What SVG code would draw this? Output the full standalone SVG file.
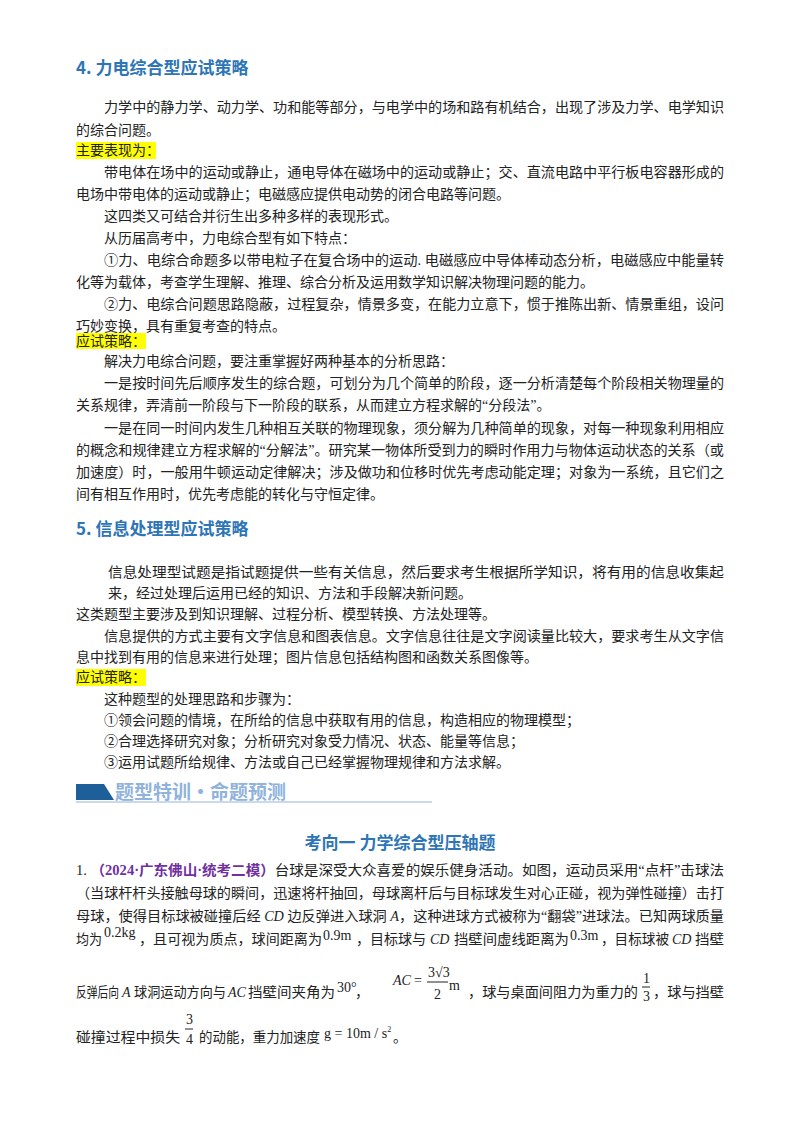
<svg xmlns="http://www.w3.org/2000/svg" width="800" height="1134" viewBox="0 0 800 1134">
<style>
.t{font-family:"Liberation Serif","Noto Sans CJK SC",serif;font-size:14px;fill:#222}
.h{font-family:"Noto Sans CJK SC",sans-serif;font-size:17px;font-weight:bold;fill:#2e75b6}
.m{font-family:"Liberation Serif",serif;font-size:14px;fill:#222}
.i{font-style:italic}
.hl{fill:#ffff00}
</style>
<rect width="800" height="1134" fill="#fff"/>
<text class="h" x="76" y="74">4. 力电综合型应试策略</text>
<g class="t">
<text x="104" y="112" textLength="620" lengthAdjust="spacingAndGlyphs">力学中的静力学、动力学、功和能等部分，与电学中的场和路有机结合，出现了涉及力学、电学知识</text>
<text x="76" y="135">的综合问题。</text>
<rect class="hl" x="76" y="142" width="80" height="17"/>
<text x="76" y="155">主要表现为：</text>
<text x="104" y="177" textLength="620" lengthAdjust="spacingAndGlyphs">带电体在场中的运动或静止，通电导体在磁场中的运动或静止；交、直流电路中平行板电容器形成的</text>
<text x="76" y="199">电场中带电体的运动或静止；电磁感应提供电动势的闭合电路等问题。</text>
<text x="104" y="221">这四类又可结合并衍生出多种多样的表现形式。</text>
<text x="104" y="243">从历届高考中，力电综合型有如下特点：</text>
<text x="104" y="265" textLength="620" lengthAdjust="spacingAndGlyphs">①力、电综合命题多以带电粒子在复合场中的运动. 电磁感应中导体棒动态分析，电磁感应中能量转</text>
<text x="76" y="287">化等为载体，考查学生理解、推理、综合分析及运用数学知识解决物理问题的能力。</text>
<text x="104" y="309" textLength="620" lengthAdjust="spacingAndGlyphs">②力、电综合问题思路隐蔽，过程复杂，情景多变，在能力立意下，惯于推陈出新、情景重组，设问</text>
<text x="76" y="331">巧妙变换，具有重复考查的特点。</text>
<rect class="hl" x="76" y="333" width="70" height="16"/>
<text x="76" y="346">应试策略：</text>
<text x="104" y="366">解决力电综合问题，要注重掌握好两种基本的分析思路：</text>
<text x="104" y="388" textLength="620" lengthAdjust="spacingAndGlyphs">一是按时间先后顺序发生的综合题，可划分为几个简单的阶段，逐一分析清楚每个阶段相关物理量的</text>
<text x="76" y="410">关系规律，弄清前一阶段与下一阶段的联系，从而建立方程求解的“分段法”。</text>
<text x="104" y="433" textLength="620" lengthAdjust="spacingAndGlyphs">一是在同一时间内发生几种相互关联的物理现象，须分解为几种简单的现象，对每一种现象利用相应</text>
<text x="76" y="455" textLength="648" lengthAdjust="spacingAndGlyphs">的概念和规律建立方程求解的“分解法”。研究某一物体所受到力的瞬时作用力与物体运动状态的关系（或</text>
<text x="76" y="477" textLength="648" lengthAdjust="spacingAndGlyphs">加速度）时，一般用牛顿运动定律解决；涉及做功和位移时优先考虑动能定理；对象为一系统，且它们之</text>
<text x="76" y="499">间有相互作用时，优先考虑能的转化与守恒定律。</text>
</g>
<text class="h" x="76" y="535">5. 信息处理型应试策略</text>
<g class="t">
<text x="108" y="577" textLength="616" lengthAdjust="spacingAndGlyphs">信息处理型试题是指试题提供一些有关信息，然后要求考生根据所学知识，将有用的信息收集起</text>
<text x="108" y="598">来，经过处理后运用已经的知识、方法和手段解决新问题。</text>
<text x="76" y="619">这类题型主要涉及到知识理解、过程分析、模型转换、方法处理等。</text>
<text x="104" y="641" textLength="620" lengthAdjust="spacingAndGlyphs">信息提供的方式主要有文字信息和图表信息。文字信息往往是文字阅读量比较大，要求考生从文字信</text>
<text x="76" y="662">息中找到有用的信息来进行处理；图片信息包括结构图和函数关系图像等。</text>
<rect class="hl" x="76" y="669" width="70" height="17"/>
<text x="76" y="682">应试策略：</text>
<text x="104" y="704">这种题型的处理思路和步骤为：</text>
<text x="104" y="725">①领会问题的情境，在所给的信息中获取有用的信息，构造相应的物理模型；</text>
<text x="104" y="746">②合理选择研究对象；分析研究对象受力情况、状态、能量等信息；</text>
<text x="104" y="767">③运用试题所给规律、方法或自己已经掌握物理规律和方法求解。</text>
</g>
<g id="banner">
<polygon points="76,784 104,784 114,800 76,800" fill="#1f5f99"/>
<text x="115" y="799" font-family="Noto Sans CJK SC,sans-serif" font-size="19" font-weight="bold" fill="#8fb3dc">题型特训・命题预测</text>
<line x1="76" y1="802" x2="432" y2="802" stroke="#b9cde6" stroke-width="1.5"/>
</g>
<text class="h" x="400" y="849" text-anchor="middle" font-size="15">考向一  力学综合型压轴题</text>
<g class="t">
<text x="76" y="875" textLength="648" lengthAdjust="spacingAndGlyphs">1. <tspan fill="#7030a0" font-weight="bold">（2024·广东佛山·统考二模）</tspan>台球是深受大众喜爱的娱乐健身活动。如图，运动员采用“点杆”击球法</text>
<text x="76" y="898" textLength="648" lengthAdjust="spacingAndGlyphs">（当球杆杆头接触母球的瞬间，迅速将杆抽回，母球离杆后与目标球发生对心正碰，视为弹性碰撞）击打</text>
<text x="76" y="921" textLength="648" lengthAdjust="spacingAndGlyphs">母球，使得目标球被碰撞后经 <tspan class="i">CD</tspan> 边反弹进入球洞 <tspan class="i">A</tspan>，这种进球方式被称为“翻袋”进球法。已知两球质量</text>
<text x="76" y="944" textLength="26" lengthAdjust="spacingAndGlyphs">均为</text>
<text class="m" x="104" y="937">0.2kg</text>
<text x="139" y="944" textLength="183" lengthAdjust="spacingAndGlyphs">，且可视为质点，球间距离为</text>
<text class="m" x="323" y="940">0.9m</text>
<text x="356" y="944" textLength="70" lengthAdjust="spacingAndGlyphs">，目标球与</text>
<text class="m i" x="430" y="944">CD</text>
<text x="454" y="944" textLength="115" lengthAdjust="spacingAndGlyphs">挡壁间虚线距离为</text>
<text class="m" x="570" y="940">0.3m</text>
<text x="601" y="944" textLength="68" lengthAdjust="spacingAndGlyphs">，目标球被</text>
<text class="m i" x="672" y="944">CD</text>
<text x="695" y="944" textLength="29" lengthAdjust="spacingAndGlyphs">挡壁</text>
<text x="76" y="997" textLength="43" lengthAdjust="spacingAndGlyphs">反弹后向</text>
<text class="m i" x="122" y="997">A</text>
<text x="134" y="997" textLength="92" lengthAdjust="spacingAndGlyphs">球洞运动方向与</text>
<text class="m i" x="228" y="997">AC</text>
<text x="248" y="997" textLength="87" lengthAdjust="spacingAndGlyphs">挡壁间夹角为</text>
<text class="m" x="337" y="992">30°</text>
<text x="355" y="997">，</text>
<text class="m i" x="393" y="985">AC</text>
<text class="m" x="414" y="985">=</text>
<text class="m" x="428" y="977" font-size="13">3√3</text>
<line x1="427" y1="982" x2="448" y2="982" stroke="#222"/>
<text class="m" x="434" y="999" font-size="13">2</text>
<text class="m" x="449" y="990">m</text>
<text x="468" y="997" textLength="170" lengthAdjust="spacingAndGlyphs">，球与桌面间阻力为重力的</text>
<text class="m" x="643" y="983" font-size="13">1</text>
<line x1="642" y1="987" x2="650" y2="987" stroke="#222"/>
<text class="m" x="643" y="1001" font-size="13">3</text>
<text x="653" y="997" textLength="71" lengthAdjust="spacingAndGlyphs">，球与挡壁</text>
<text x="76" y="1042" textLength="104" lengthAdjust="spacingAndGlyphs">碰撞过程中损失</text>
<text class="m" x="186" y="1024" font-size="13">3</text>
<line x1="185" y1="1029" x2="193" y2="1029" stroke="#222"/>
<text class="m" x="186" y="1044" font-size="13">4</text>
<text x="199" y="1042" textLength="121" lengthAdjust="spacingAndGlyphs">的动能，重力加速度</text>
<text class="m" x="324" y="1038">g = 10m / s<tspan font-size="8" dy="-6">2</tspan></text>
<text x="393" y="1042">。</text>
</g>
</svg>
